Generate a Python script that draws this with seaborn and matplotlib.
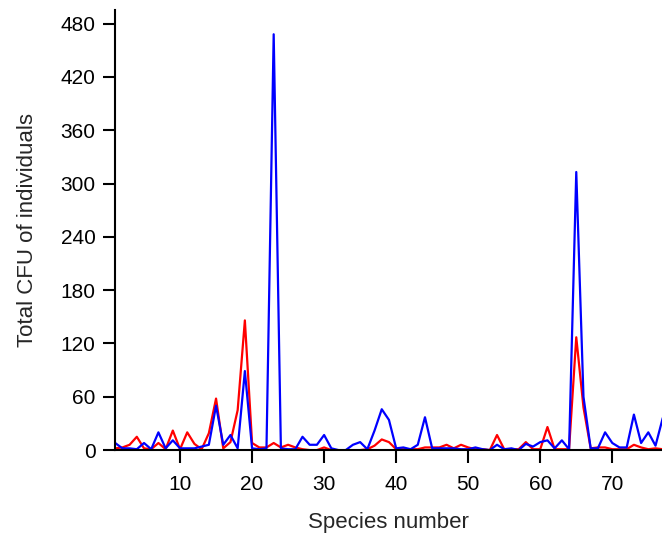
import matplotlib
matplotlib.use("Agg")
import matplotlib.pyplot as plt
import numpy as np
import pandas as pd
import seaborn as sns

species = list(range(1, 79))

cfu_red = [2, 3, 6, 15, 2, 1, 8, 1, 22, 1,
           20, 7, 1, 19, 58, 2, 9, 45, 146, 8,
           3, 3, 8, 3, 6, 3, 1, 0, 0, 3,
           0, 0, 0, 0, 0, 1, 5, 12, 9, 1,
           1, 1, 1, 3, 3, 3, 6, 2, 6, 3,
           1, 1, 0, 17, 1, 1, 1, 9, 1, 1,
           26, 1, 1, 1, 127, 48, 2, 3, 3, 1,
           1, 1, 6, 3, 1, 2, 1, 1]

cfu_blue = [8, 2, 2, 1, 8, 1, 20, 2, 11, 2,
            2, 2, 4, 6, 50, 6, 17, 2, 89, 2,
            1, 2, 468, 2, 1, 1, 15, 6, 6, 17,
            2, 0, 0, 6, 9, 1, 22, 46, 34, 2,
            3, 1, 6, 37, 2, 2, 2, 2, 1, 1,
            3, 1, 0, 6, 1, 2, 0, 7, 4, 9,
            11, 2, 11, 1, 313, 60, 2, 2, 20, 8,
            3, 3, 40, 8, 20, 5, 36, 50]

df = pd.DataFrame({"species": species, "red": cfu_red, "blue": cfu_blue})

sns.set_style("ticks")
plt.rcParams["font.family"] = ["Liberation Sans", "DejaVu Sans"]

fig = plt.figure(figsize=(6.62, 5.41), dpi=100)
ax = fig.add_axes([0.174, 0.168, 0.826, 0.813])

sns.lineplot(data=df, x="species", y="red", color="#FF0000", linewidth=1.6, ax=ax)
sns.lineplot(data=df, x="species", y="blue", color="#0000FF", linewidth=1.6, ax=ax)

ax.set_xlim(1, 76.9)
ax.set_ylim(0, 495)
ax.set_xticks(range(10, 80, 10))
ax.set_yticks(range(0, 481, 60))
ax.tick_params(axis="both", direction="out", length=9, width=1.5,
               labelsize=15, color="black", labelcolor="black", pad=5)
ax.tick_params(axis="x", pad=9)

sns.despine(ax=ax)
for side in ["left", "bottom"]:
    ax.spines[side].set_linewidth(1.5)
    ax.spines[side].set_color("black")

ax.set_xlabel("Species number", fontsize=16, labelpad=13)
ax.set_ylabel("Total CFU of individuals", fontsize=16, labelpad=16)

fig.savefig("out.png", dpi=100)
plt.close(fig)
